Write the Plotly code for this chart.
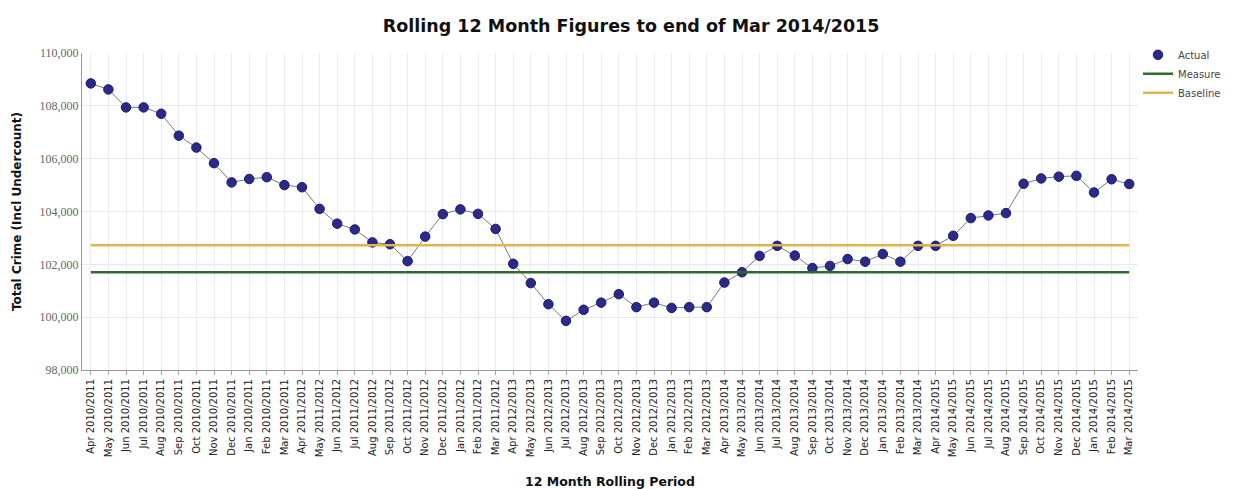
import plotly.graph_objects as go

years = ["2010/2011", "2011/2012", "2012/2013", "2013/2014", "2014/2015"]
months = ["Apr", "May", "Jun", "Jul", "Aug", "Sep", "Oct", "Nov", "Dec", "Jan", "Feb", "Mar"]
categories = [f"{m} {y}" for y in years for m in months]

actual = [
    108850, 108620, 107940, 107940, 107700, 106870, 106420, 105830, 105100, 105230, 105300, 105000,
    104920, 104100, 103540, 103320, 102830, 102760, 102120, 103050, 103900, 104080, 103910, 103340,
    102020, 101290, 100490, 99860, 100280, 100550, 100870, 100380, 100550, 100350, 100380, 100380,
    101310, 101700, 102320, 102700, 102330, 101860, 101940, 102200, 102100, 102390, 102100, 102700,
    102700, 103080, 103750, 103850, 103940, 105050, 105250, 105320, 105350, 104720, 105220, 105040,
]
measure_value = 101700
baseline_value = 102720
measure = [measure_value] * len(categories)
baseline = [baseline_value] * len(categories)

y_ticks = [98000, 100000, 102000, 104000, 106000, 108000, 110000]

fig = go.Figure()
# connecting line (no legend entry)
fig.add_trace(go.Scatter(
    x=categories, y=actual, name="Actual line", mode="lines", showlegend=False,
    line=dict(color="#555566", width=0.8), hoverinfo="skip",
))
fig.add_trace(go.Scatter(
    x=categories, y=actual, name="Actual", mode="markers",
    marker=dict(color="#2b2a8c", size=9.5, line=dict(color="#1c1b5e", width=1)),
))
fig.add_trace(go.Scatter(
    x=categories, y=measure, name="Measure", mode="lines",
    line=dict(color="#2f6a31", width=2.5),
))
fig.add_trace(go.Scatter(
    x=categories, y=baseline, name="Baseline", mode="lines",
    line=dict(color="#e2b548", width=2.5),
))

fig.update_layout(
    width=1229, height=481,
    margin=dict(l=74, r=99, t=45, b=119, autoexpand=False),
    paper_bgcolor="white", plot_bgcolor="white",
    font=dict(family="DejaVu Sans", size=10, color="#333333"),
    title=dict(text="<b>Rolling 12 Month Figures to end of Mar 2014/2015</b>",
               x=0.507, xanchor="center", y=0.963, yanchor="middle",
               font=dict(family="DejaVu Sans", size=17.5, color="#111111")),
    legend=dict(x=1.0, y=1.04, xanchor="left", yanchor="top",
                font=dict(family="DejaVu Sans", size=10, color="#444444"),
                bgcolor="rgba(0,0,0,0)", tracegroupgap=0, itemwidth=30),
    showlegend=True,
)
fig.update_xaxes(
    type="category", range=[-0.5, 59.5], tickangle=-90,
    showgrid=True, gridcolor="#ececf0", gridwidth=1,
    showline=True, linecolor="#999999", linewidth=1,
    ticks="outside", ticklen=4, tickcolor="#aaaaaa",
    tickfont=dict(family="DejaVu Sans", size=10, color="#222222"),
    title=dict(text="<b>12 Month Rolling Period</b>", standoff=21,
               font=dict(family="DejaVu Sans", size=12.5, color="#111111")),
)
fig.update_yaxes(
    range=[98000, 110000], tickvals=y_ticks, tickformat=",",
    showgrid=True, gridcolor="#e8e8ee", gridwidth=1,
    showline=True, linecolor="#999999", linewidth=1, zeroline=False,
    tickfont=dict(family="Liberation Serif", size=12, color="#666666"),
    title=dict(text="<b>Total Crime (Incl Undercount)</b>", standoff=15,
               font=dict(family="DejaVu Sans", size=12, color="#111111")),
)

fig.write_html("out.html")
